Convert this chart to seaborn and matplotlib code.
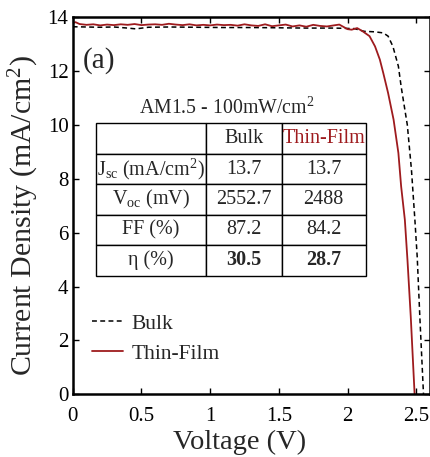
import numpy as np
import pandas as pd
import matplotlib
matplotlib.use("Agg")
import matplotlib.pyplot as plt
import seaborn as sns

# ---- data ----
bulk_v = [0.0, 0.1, 0.2, 0.3, 0.4, 0.46, 0.55, 0.7, 0.9, 1.1, 1.3, 1.5, 1.7, 1.9, 2.05, 2.12,
          2.2, 2.26, 2.295, 2.33, 2.37, 2.39, 2.417, 2.435, 2.465, 2.49, 2.507, 2.526, 2.5527]
bulk_j = [13.65, 13.64, 13.63, 13.64, 13.60, 13.57, 13.63, 13.64, 13.63, 13.62, 13.62, 13.61, 13.60, 13.60, 13.58, 13.48,
          13.46, 13.42, 13.3, 12.92, 12.18, 11.43, 10.57, 10.0, 8.34, 6.48, 5.1, 2.88, 0.0]

thin_v = [0.0, 0.02, 0.05, 0.1, 0.15, 0.2, 0.25, 0.3, 0.35, 0.4, 0.45, 0.5, 0.55, 0.6, 0.65, 0.7,
          0.75, 0.8, 0.85, 0.9, 0.95, 1.0, 1.05, 1.1, 1.15, 1.2, 1.25, 1.3, 1.35, 1.4, 1.45, 1.5,
          1.55, 1.6, 1.65, 1.7, 1.75, 1.8, 1.85, 1.9, 1.94, 2.0, 2.03, 2.07, 2.11, 2.16, 2.20,
          2.235, 2.26, 2.295, 2.335, 2.37, 2.39, 2.417, 2.436, 2.46, 2.488]
thin_j = [13.78, 13.82, 13.75, 13.72, 13.74, 13.70, 13.73, 13.71, 13.74, 13.72, 13.75, 13.71, 13.73, 13.74, 13.72, 13.76,
          13.73, 13.71, 13.74, 13.70, 13.72, 13.70, 13.73, 13.71, 13.72, 13.69, 13.74, 13.70, 13.68, 13.74, 13.67, 13.70,
          13.73, 13.66, 13.70, 13.65, 13.72, 13.68, 13.66, 13.70, 13.73, 13.56, 13.54, 13.60, 13.48, 13.30, 12.92,
          12.43, 11.93, 11.19, 10.2, 8.96, 7.72, 6.48, 4.99, 2.88, 0.0]

table_title = "AM1.5 - 100mW/cm$^2$"
col_labels = ["", "Bulk", "Thin-Film"]
row_labels = ["J$_{\\rm sc}$ (mA/cm$^2$)", "V$_{\\rm oc}$ (mV)", "FF (%)", "η (%)"]
bulk_vals = ["13.7", "2552.7", "87.2", "30.5"]
thin_vals = ["13.7", "2488", "84.2", "28.7"]

x_ticks = [0, 0.5, 1, 1.5, 2, 2.5]
x_tick_labels = ["0", "0.5", "1", "1.5", "2", "2.5"]
y_ticks = [0, 2, 4, 6, 8, 10, 12, 14]

RED = "#9e1b1e"

sns.set_theme(style="ticks")
plt.rcParams["font.family"] = ["Liberation Serif", "DejaVu Serif"]
plt.rcParams["mathtext.fontset"] = "custom"
plt.rcParams["mathtext.rm"] = "Liberation Serif"
plt.rcParams["mathtext.it"] = "Liberation Serif:italic"
plt.rcParams["mathtext.bf"] = "Liberation Serif:bold"

fig = plt.figure(figsize=(4.30, 4.57), dpi=100)
ax = fig.add_axes([72.7 / 430, (457 - 394.3) / 457, 357.3 / 430, 377 / 457])

df_b = pd.DataFrame({"V": bulk_v, "J": bulk_j})
df_t = pd.DataFrame({"V": thin_v, "J": thin_j})
sns.lineplot(data=df_b, x="V", y="J", ax=ax, color="black", linestyle=(0, (3.2, 2.2)),
             linewidth=1.1, label="Bulk", estimator=None, sort=False)
sns.lineplot(data=df_t, x="V", y="J", ax=ax, color=RED, linewidth=1.3,
             label="Thin-Film", estimator=None, sort=False)

ax.set_xlim(0, 2.6)
ax.set_ylim(0, 14)
ax.set_xticks(x_ticks)
ax.set_xticklabels(x_tick_labels)
ax.set_yticks(y_ticks)
ax.tick_params(direction="in", length=4, width=1.0, top=True, right=True,
               labelsize=15, colors="black")
ax.tick_params(axis="x", pad=9)
ax.tick_params(axis="y", pad=3)
for s in ax.spines.values():
    s.set_linewidth(1.8)
    s.set_color("black")
ax.set_xlabel("Voltage (V)", fontsize=20.5)
ax.xaxis.set_label_coords(0.468, -0.093)
ax.set_ylabel("Current Density (mA/cm$^2$)", fontsize=21.5)
ax.yaxis.set_label_coords(-0.089, 0.475)

leg = ax.legend(loc="lower left", bbox_to_anchor=(0.0, 0.03), frameon=False,
                fontsize=15.5, handlelength=1.45, handletextpad=0.4, labelspacing=0.45)

ax.text(0.029, 0.886, "(a)", transform=ax.transAxes, fontsize=21, va="center", ha="left")
ax.text(0.431, 0.759, table_title, transform=ax.transAxes, fontsize=14.3, va="center", ha="center")

cell_text = [[r, b, t] for r, b, t in zip(row_labels, bulk_vals, thin_vals)]
tbl = ax.table(cellText=[col_labels] + cell_text, cellLoc="center",
               colWidths=[110, 75.7, 84],
               bbox=[(96 - 72.7) / 357.3, 1 - (275.7 - 17.3) / 377,
                     (365.7 - 96) / 357.3, (275.7 - 123.3) / 377])
tbl.auto_set_font_size(False)
for (r, c), cell in tbl.get_celld().items():
    cell.set_linewidth(1.0)
    cell.set_edgecolor("black")
    cell.PAD = 0.02
    cell.get_text().set_fontsize(14.5)
    if r == 0 and c == 2:
        cell.get_text().set_color(RED)
    if r == 4 and c > 0:
        cell.get_text().set_fontweight("bold")

fig.savefig("out.png", dpi=100)
